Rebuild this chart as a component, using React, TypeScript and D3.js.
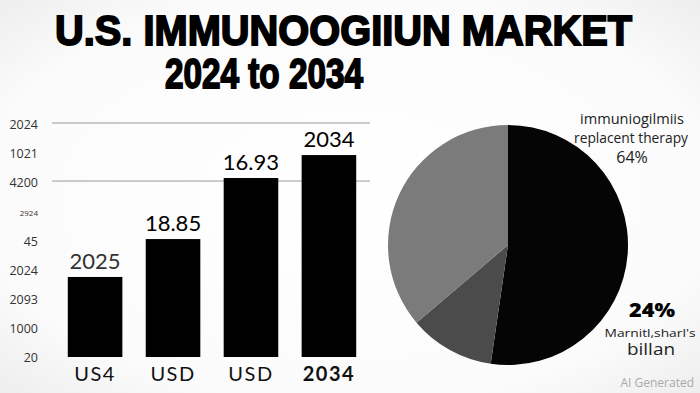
import React, { useEffect, useRef } from 'react';
import * as d3 from 'd3';

// bar chart data
const barCategories = ['US4', 'USD', 'USD', '2034'];
const barValues = [34.2, 50.4, 76.5, 86.3];
const barLabels = ['2025', '18.85', '16.93', '2034'];

// y axis labels (as printed, top to bottom)
const yTickLabels = ['2024', '1021', '4200', '2924', '45', '2024', '2093', '1000', '20'];
const gridValues = [75.2, 100];

// pie data
const pieNames = ['immuniogilmiis replacent therapy', 'Marnitl,sharl\'s', 'other'];
const pieValues = [52.3, 11.5, 36.2];
const pieColors = ['#050505', '#4b4b4b', '#7b7b7b'];

const W = 700;
const H = 393;

function App() {
  const ref = useRef<SVGSVGElement | null>(null);

  useEffect(() => {
    const svg = d3.select(ref.current);
    svg.selectAll('*').remove();

    // background
    const defs = svg.append('defs');
    const grad = defs.append('radialGradient').attr('id', 'bg').attr('cx', '50%').attr('cy', '50%').attr('r', '70%');
    grad.append('stop').attr('offset', '0%').attr('stop-color', '#ffffff');
    grad.append('stop').attr('offset', '75%').attr('stop-color', '#fbfbfb');
    grad.append('stop').attr('offset', '100%').attr('stop-color', '#eeeeee');
    svg.append('rect').attr('width', W).attr('height', H).attr('fill', 'url(#bg)');

    // title
    svg.append('text')
      .attr('x', 55).attr('y', 45)
      .attr('textLength', 577).attr('lengthAdjust', 'spacingAndGlyphs')
      .style('font-family', 'Liberation Sans, Arial, sans-serif')
      .style('font-weight', 900).style('font-size', '42px').attr('fill', '#000')
      .attr('stroke', '#000').attr('stroke-width', 1.8)
      .text('U.S. IMMUNOOGIIUN MARKET');
    svg.append('text')
      .attr('x', 165).attr('y', 88)
      .attr('textLength', 198).attr('lengthAdjust', 'spacingAndGlyphs')
      .style('font-family', 'Liberation Sans, Arial, sans-serif')
      .style('font-weight', 900).style('font-size', '42px').attr('fill', '#000')
      .attr('stroke', '#000').attr('stroke-width', 1.8)
      .text('2024 to 2034');

    // bar chart
    const x = d3.scaleBand<number>()
      .domain(d3.range(barCategories.length))
      .range([60, 364])
      .paddingInner(0.3)
      .paddingOuter(0.1);
    const y = d3.scaleLinear().domain([0, 100]).range([357, 123]);

    svg.append('g')
      .selectAll('line')
      .data(gridValues)
      .enter()
      .append('line')
      .attr('x1', 52).attr('x2', 370)
      .attr('y1', (d) => y(d)).attr('y2', (d) => y(d))
      .attr('stroke', '#9a9a9a').attr('stroke-width', 1);

    const yl = d3.scalePoint<number>().domain(d3.range(yTickLabels.length)).range([129, 362]);
    svg.append('g')
      .selectAll('text')
      .data(yTickLabels)
      .enter()
      .append('text')
      .attr('x', 38)
      .attr('y', (_, i) => yl(i) as number)
      .attr('text-anchor', 'end')
      .style('font-family', 'Open Sans, sans-serif')
      .style('font-size', (_, i) => (i === 3 ? '8px' : '12.5px'))
      .attr('fill', '#333')
      .text((d) => d);

    const bars = svg.append('g');
    bars.selectAll('rect')
      .data(barValues)
      .enter()
      .append('rect')
      .attr('x', (_, i) => x(i) as number)
      .attr('width', x.bandwidth())
      .attr('y', (d) => y(d))
      .attr('height', (d) => y(0) - y(d))
      .attr('fill', '#000');

    bars.selectAll('text.val')
      .data(barValues)
      .enter()
      .append('text')
      .attr('class', 'val')
      .attr('x', (_, i) => (x(i) as number) + x.bandwidth() / 2)
      .attr('y', (d) => y(d) - 8)
      .attr('text-anchor', 'middle')
      .style('font-family', 'Lato, sans-serif')
      .style('font-size', '22px')
      .attr('fill', (_, i) => (i === 0 ? '#333' : '#000'))
      .text((_, i) => barLabels[i]);

    bars.selectAll('text.cat')
      .data(barCategories)
      .enter()
      .append('text')
      .attr('class', 'cat')
      .attr('x', (_, i) => (x(i) as number) + x.bandwidth() / 2)
      .attr('y', 381)
      .attr('text-anchor', 'middle')
      .style('font-family', 'Lato, sans-serif')
      .style('font-size', '20px')
      .style('letter-spacing', '1.5px')
      .style('font-weight', (_, i) => (i === 3 ? 700 : 400))
      .attr('fill', '#111')
      .text((d) => d);

    // pie
    const pie = d3.pie<number>().sort(null).value((d) => d);
    const arc = d3.arc<d3.PieArcDatum<number>>().innerRadius(0).outerRadius(120);
    svg.append('g')
      .attr('transform', 'translate(508,245)')
      .selectAll('path')
      .data(pie(pieValues))
      .enter()
      .append('path')
      .attr('d', arc)
      .attr('fill', (_, i) => pieColors[i]);

    const lab = svg.append('g').style('font-family', 'Open Sans, sans-serif').attr('text-anchor', 'middle');
    lab.append('text').attr('x', 632).attr('y', 124).attr('textLength', 104).attr('lengthAdjust', 'spacingAndGlyphs')
      .style('font-size', '14px').attr('fill', '#222').text('immuniogilmiis');
    lab.append('text').attr('x', 631).attr('y', 143).attr('textLength', 114).attr('lengthAdjust', 'spacingAndGlyphs')
      .style('font-size', '14px').attr('fill', '#222').text('replacent therapy');
    lab.append('text').attr('x', 632).attr('y', 163)
      .style('font-size', '16px').attr('fill', '#222').text(`${Math.round(64)}%`);
    lab.append('text').attr('x', 652).attr('y', 317).attr('textLength', 46).attr('lengthAdjust', 'spacingAndGlyphs')
      .style('font-size', '19px').style('font-weight', 800).attr('fill', '#000').text('24%');
    lab.append('text').attr('x', 650).attr('y', 337).attr('textLength', 91).attr('lengthAdjust', 'spacingAndGlyphs')
      .style('font-size', '11px').attr('fill', '#222').text(pieNames[1]);
    lab.append('text').attr('x', 651).attr('y', 355).attr('textLength', 48).attr('lengthAdjust', 'spacingAndGlyphs')
      .style('font-size', '16px').attr('fill', '#222').text('billan');

    svg.append('text')
      .attr('x', 694).attr('y', 387)
      .attr('text-anchor', 'end')
      .style('font-family', 'Open Sans, sans-serif')
      .style('font-size', '12px')
      .attr('fill', '#aaa')
      .text('AI Generated');
  }, []);

  return (
    <svg ref={ref} width={W} height={H} style={{ position: 'absolute', left: 0, top: 0, display: 'block' }} />
  );
}

export default App;
